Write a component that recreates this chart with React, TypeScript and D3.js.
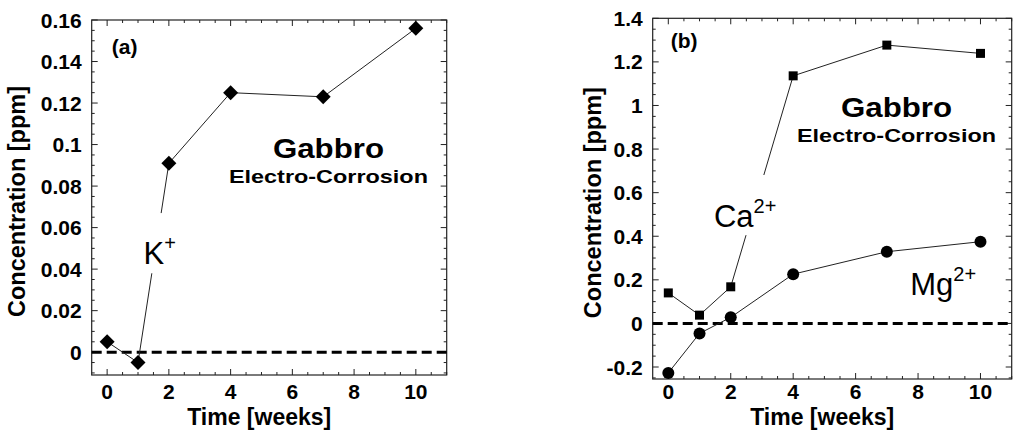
import { useEffect, useRef } from 'react';
import * as d3 from 'd3';

// Time axis (weeks) shared by both panels
const weeks = [0, 1, 2, 4, 7, 10];

// Panel (a): K+
const kValues = [0.005, -0.005, 0.091, 0.125, 0.123, 0.156];
const kTicks = [0, 0.02, 0.04, 0.06, 0.08, 0.1, 0.12, 0.14, 0.16];

// Panel (b): Ca2+ and Mg2+
const caValues = [0.14, 0.038, 0.168, 1.136, 1.277, 1.239];
const mgValues = [-0.227, -0.046, 0.028, 0.226, 0.329, 0.375];
const bTicks = [-0.2, 0, 0.2, 0.4, 0.6, 0.8, 1, 1.2, 1.4];

const xTicks = [0, 2, 4, 6, 8, 10];

const WIDTH = 1024;
const HEIGHT = 443;
const FONT = '"Liberation Sans", Arial, Helvetica, sans-serif';

export default function App() {
  const svgRef = useRef<SVGSVGElement>(null);

  useEffect(() => {
    if (!svgRef.current) return;
    const svg = d3.select(svgRef.current);
    svg.selectAll('*').remove();

    const drawPanel = (opts: {
      left: number;
      right: number;
      top: number;
      bottom: number;
      yDomain: [number, number];
      yTicks: number[];
      yMinorStep: number;
      yFormat: (v: number) => string;
      tag: string;
      tagPos: [number, number];
      titleOffset: number;
      gabbro: [number, number, number];
    }) => {
      const x = d3.scaleLinear().domain([-0.5, 11]).range([opts.left, opts.right]);
      const y = d3.scaleLinear().domain(opts.yDomain).range([opts.bottom, opts.top]);
      const g = svg.append('g');

      // frame
      g.append('rect')
        .attr('x', opts.left)
        .attr('y', opts.top)
        .attr('width', opts.right - opts.left)
        .attr('height', opts.bottom - opts.top)
        .attr('fill', 'none')
        .attr('stroke', '#222')
        .attr('stroke-width', 1.2);

      // x ticks (inward, top & bottom)
      const xMinor = d3.range(0, 11.01, 0.5);
      xMinor.forEach((v) => {
        const major = Math.abs(v % 2) < 1e-6;
        const len = major ? 6 : 3;
        g.append('line')
          .attr('x1', x(v)).attr('x2', x(v))
          .attr('y1', opts.bottom).attr('y2', opts.bottom - len)
          .attr('stroke', '#222');
        g.append('line')
          .attr('x1', x(v)).attr('x2', x(v))
          .attr('y1', opts.top).attr('y2', opts.top + len)
          .attr('stroke', '#222');
      });

      // y ticks (inward, left & right)
      const yStart = Math.ceil(opts.yDomain[0] / opts.yMinorStep) * opts.yMinorStep;
      const yMinor = d3.range(yStart, opts.yDomain[1] + 1e-9, opts.yMinorStep);
      yMinor.forEach((v) => {
        const major = opts.yTicks.some((t) => Math.abs(t - v) < 1e-6);
        const len = major ? 6 : 3;
        g.append('line')
          .attr('x1', opts.left).attr('x2', opts.left + len)
          .attr('y1', y(v)).attr('y2', y(v))
          .attr('stroke', '#222');
        g.append('line')
          .attr('x1', opts.right).attr('x2', opts.right - len)
          .attr('y1', y(v)).attr('y2', y(v))
          .attr('stroke', '#222');
      });

      // tick labels
      g.selectAll('text.xt')
        .data(xTicks)
        .join('text')
        .attr('class', 'xt')
        .attr('x', (d) => x(d))
        .attr('y', 399)
        .attr('text-anchor', 'middle')
        .style('font-family', FONT)
        .style('font-weight', 'bold')
        .style('font-size', '21px')
        .text((d) => String(d));

      g.selectAll('text.yt')
        .data(opts.yTicks)
        .join('text')
        .attr('class', 'yt')
        .attr('x', opts.left - 10)
        .attr('y', (d) => y(d) + 7.5)
        .attr('text-anchor', 'end')
        .style('font-family', FONT)
        .style('font-weight', 'bold')
        .style('font-size', '21px')
        .text((d) => opts.yFormat(d));

      // axis titles
      g.append('text')
        .attr('x', (opts.left + opts.right) / 2 - 10)
        .attr('y', 425)
        .attr('text-anchor', 'middle')
        .style('font-family', FONT)
        .style('font-weight', 'bold')
        .style('font-size', '23px')
        .text('Time [weeks]');

      g.append('text')
        .attr('transform', `translate(${opts.left - opts.titleOffset},${(opts.top + opts.bottom) / 2 + 4}) rotate(-90)`)
        .attr('text-anchor', 'middle')
        .style('font-family', FONT)
        .style('font-weight', 'bold')
        .style('font-size', '23.5px')
        .text('Concentration [ppm]');

      // panel tag
      g.append('text')
        .attr('x', x(opts.tagPos[0]))
        .attr('y', y(opts.tagPos[1]))
        .style('font-family', FONT)
        .style('font-weight', 'bold')
        .style('font-size', '21px')
        .text(opts.tag);

      // Gabbro label
      g.append('text')
        .attr('x', x(opts.gabbro[0]))
        .attr('y', y(opts.gabbro[1]))
        .attr('text-anchor', 'middle')
        .attr('textLength', 111)
        .attr('lengthAdjust', 'spacingAndGlyphs')
        .style('font-family', FONT)
        .style('font-weight', 'bold')
        .style('font-size', '27px')
        .text('Gabbro');
      g.append('text')
        .attr('x', x(opts.gabbro[0]))
        .attr('y', y(opts.gabbro[2]))
        .attr('text-anchor', 'middle')
        .attr('textLength', 199)
        .attr('lengthAdjust', 'spacingAndGlyphs')
        .style('font-family', FONT)
        .style('font-weight', 'bold')
        .style('font-size', '18px')
        .text('Electro-Corrosion');

      // zero dashed line
      g.append('line')
        .attr('x1', opts.left)
        .attr('x2', opts.right)
        .attr('y1', y(0))
        .attr('y2', y(0))
        .attr('stroke', '#000')
        .attr('stroke-width', 3)
        .attr('stroke-dasharray', '10,5');

      return { g, x, y };
    };

    const line = (x: d3.ScaleLinear<number, number>, y: d3.ScaleLinear<number, number>) =>
      d3
        .line<number>()
        .x((_, i) => x(weeks[i]))
        .y((d) => y(d));

    const ionLabel = (
      g: d3.Selection<SVGGElement, unknown, null, undefined>,
      px: number,
      py: number,
      base: string,
      sup: string,
    ) => {
      const t = g
        .append('text')
        .attr('x', px)
        .attr('y', py)
        .style('font-family', FONT)
        .style('font-size', '31px');
      t.append('tspan').text(base);
      t.append('tspan').attr('dy', -14).style('font-size', '20px').text(sup);
    };

    // ---------- Panel (a) ----------
    const a = drawPanel({
      left: 91.7,
      right: 446.7,
      top: 20,
      bottom: 375,
      yDomain: [-0.011, 0.16],
      yTicks: kTicks,
      yMinorStep: 0.005,
      yFormat: (v) => (v === 0 ? '0' : String(+v.toFixed(2))),
      tag: '(a)',
      tagPos: [0.15, 0.1435],
      titleOffset: 67,
      gabbro: [7.17, 0.0936, 0.0814],
    });

    a.g.append('path')
      .datum(kValues)
      .attr('d', line(a.x, a.y))
      .attr('fill', 'none')
      .attr('stroke', '#222')
      .attr('stroke-width', 1);

    // gap in the line behind the K+ label
    a.g.append('rect')
      .attr('x', a.x(1.05))
      .attr('y', a.y(0.067))
      .attr('width', a.x(2.0) - a.x(1.05))
      .attr('height', a.y(0.038) - a.y(0.067))
      .attr('fill', '#fff');
    ionLabel(a.g, a.x(1.18), a.y(0.0424), 'K', '+');

    a.g.selectAll('path.k')
      .data(kValues)
      .join('path')
      .attr('class', 'k')
      .attr('d', d3.symbol(d3.symbolSquare, 112)())
      .attr('transform', (d, i) => `translate(${a.x(weeks[i])},${a.y(d)}) rotate(45)`)
      .attr('fill', '#000');

    // ---------- Panel (b) ----------
    const b = drawPanel({
      left: 652.7,
      right: 1011.7,
      top: 18.3,
      bottom: 379,
      yDomain: [-0.255, 1.4],
      yTicks: bTicks,
      yMinorStep: 0.05,
      yFormat: (v) => (Math.abs(v) < 1e-9 ? '0' : String(+v.toFixed(1))),
      tag: '(b)',
      tagPos: [0.08, 1.265],
      titleOffset: 52,
      gabbro: [7.31, 0.948, 0.833],
    });

    b.g.append('path')
      .datum(caValues)
      .attr('d', line(b.x, b.y))
      .attr('fill', 'none')
      .attr('stroke', '#222')
      .attr('stroke-width', 1);
    b.g.append('path')
      .datum(mgValues)
      .attr('d', line(b.x, b.y))
      .attr('fill', 'none')
      .attr('stroke', '#222')
      .attr('stroke-width', 1);

    b.g.append('rect')
      .attr('x', b.x(1.4))
      .attr('y', b.y(0.681))
      .attr('width', b.x(3.6) - b.x(1.4))
      .attr('height', b.y(0.405) - b.y(0.681))
      .attr('fill', '#fff');
    ionLabel(b.g, b.x(1.46), b.y(0.443), 'Ca', '2+');
    ionLabel(b.g, b.x(7.75), b.y(0.13), 'Mg', '2+');

    b.g.selectAll('path.ca')
      .data(caValues)
      .join('path')
      .attr('class', 'ca')
      .attr('d', d3.symbol(d3.symbolSquare, 81)())
      .attr('transform', (d, i) => `translate(${b.x(weeks[i])},${b.y(d)})`)
      .attr('fill', '#000');

    b.g.selectAll('circle.mg')
      .data(mgValues)
      .join('circle')
      .attr('class', 'mg')
      .attr('cx', (d, i) => b.x(weeks[i]))
      .attr('cy', (d) => b.y(d))
      .attr('r', 6)
      .attr('fill', '#000');
  }, []);

  return (
    <svg
      ref={svgRef}
      width={WIDTH}
      height={HEIGHT}
      style={{ position: 'absolute', left: 0, top: 0, background: '#fff' }}
    />
  );
}
